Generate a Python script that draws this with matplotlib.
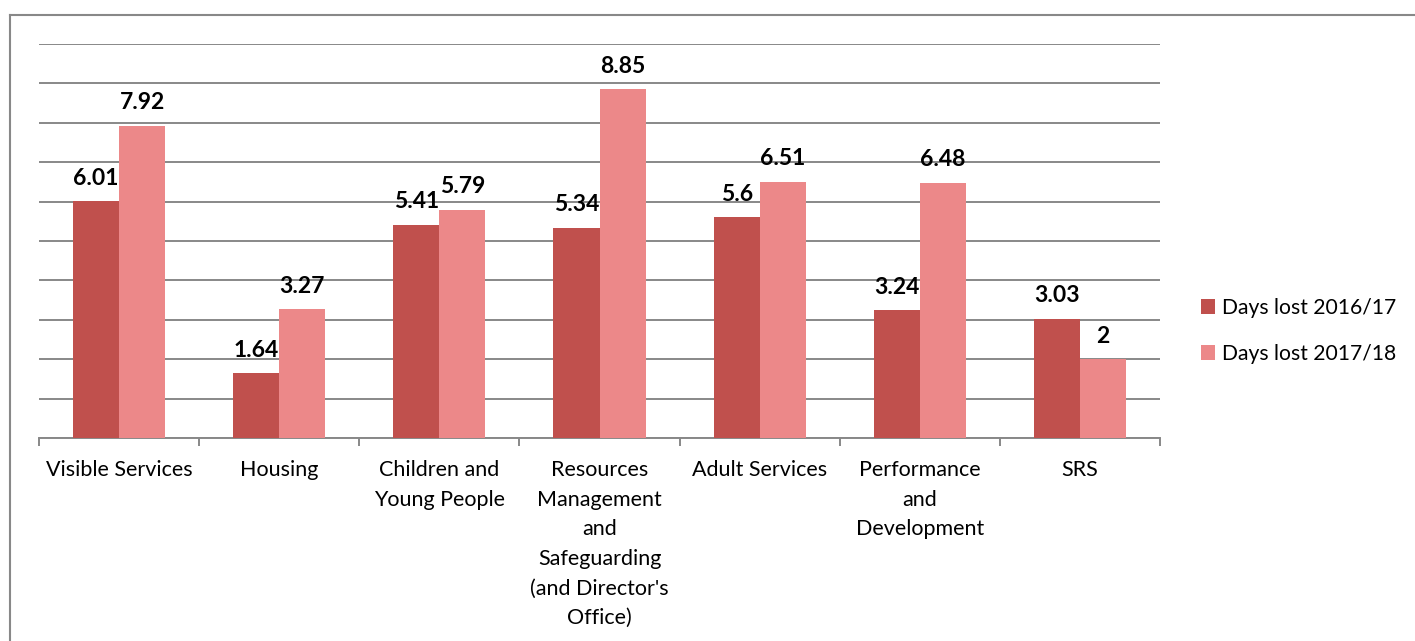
import matplotlib
matplotlib.use("Agg")
import matplotlib.pyplot as plt
from matplotlib.lines import Line2D
import numpy as np

categories = ["Visible Services", "Housing", "Children and\nYoung People",
              "Resources\nManagement\nand\nSafeguarding\n(and Director's\nOffice)",
              "Adult Services", "Performance\nand\nDevelopment", "SRS"]
days_2016 = [6.01, 1.64, 5.41, 5.34, 5.6, 3.24, 3.03]
days_2017 = [7.92, 3.27, 5.79, 8.85, 6.51, 6.48, 2]
labels_2016 = ["6.01", "1.64", "5.41", "5.34", "5.6", "3.24", "3.03"]
labels_2017 = ["7.92", "3.27", "5.79", "8.85", "6.51", "6.48", "2"]
series_names = ["Days lost 2016/17", "Days lost 2017/18"]

plt.rcParams['font.family'] = ['Lato', 'DejaVu Sans']

W, H = 1415, 641
fig = plt.figure(figsize=(W / 100, H / 100), dpi=100)
ax = fig.add_axes([39 / W, (H - 438) / H, (1160 - 39) / W, (438 - 44) / H])

x = np.arange(len(categories))
bw = 0.2875
c1, c2 = "#C0504D", "#EC8889"
b1 = ax.bar(x - bw / 2, days_2016, bw, color=c1, label=series_names[0], zorder=3)
b2 = ax.bar(x + bw / 2, days_2017, bw, color=c2, label=series_names[1], zorder=3)

for bars, labs in ((b1, labels_2016), (b2, labels_2017)):
    for r, t in zip(bars, labs):
        ax.annotate(t, (r.get_x() + r.get_width() / 2, r.get_height()),
                    xytext=(0, 9), textcoords="offset points",
                    ha="center", va="bottom", fontsize=16.5, fontweight="bold",
                    color="black")

ax.set_xlim(-0.5, len(categories) - 0.5)
ax.set_ylim(0, 10)
ax.set_yticks(np.arange(0, 11, 1))
ax.yaxis.grid(True, color="#888888", linewidth=1.4, zorder=0)
ax.tick_params(axis="y", length=0, labelleft=False)
ax.set_xticks(np.arange(-0.5, len(categories), 1.0), minor=False)
ax.set_xticklabels([])
ax.tick_params(axis="x", which="major", length=6, width=1.4, color="#888888", direction="out")
ax.set_xticks(x, minor=True)
ax.set_xticklabels(categories, minor=True, fontsize=15.5, linespacing=1.6, va="top")
ax.tick_params(axis="x", which="minor", length=0, pad=16)
for s in ["top", "right", "left"]:
    ax.spines[s].set_visible(False)
ax.spines["bottom"].set_color("#888888")
ax.spines["bottom"].set_linewidth(1.4)

leg = fig.legend(handles=[b1, b2], labels=series_names, loc="upper left",
                 bbox_to_anchor=(1182 / W, 1 - 279 / H), frameon=False,
                 fontsize=15.2, handlelength=0.67, handleheight=0.67,
                 handletextpad=0.33, labelspacing=1.22)

fig.add_artist(Line2D([10 / W, 10 / W], [0, 1 - 14.5 / H], transform=fig.transFigure,
                      color="#888888", linewidth=1.5))
fig.add_artist(Line2D([10 / W, 1], [1 - 14.5 / H, 1 - 14.5 / H], transform=fig.transFigure,
                      color="#888888", linewidth=1.5))

fig.savefig("out.png", dpi=100)
